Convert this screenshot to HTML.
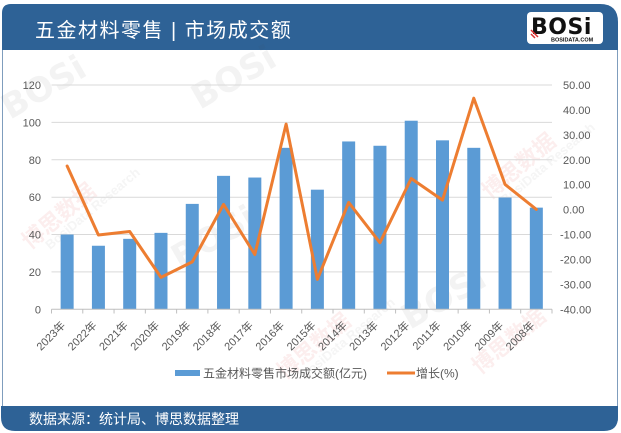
<!DOCTYPE html>
<html><head><meta charset="utf-8"><style>
html,body{margin:0;padding:0;background:#fff;}
svg{display:block;}
</style></head><body>
<svg width="621" height="433" viewBox="0 0 621 433" xmlns="http://www.w3.org/2000/svg" font-family="'Liberation Sans','Noto Sans CJK SC',sans-serif">
<!-- card body -->
<rect x="2.5" y="40" width="615" height="380" fill="#fff" stroke="#7f9dbd" stroke-width="1"/>
<!-- header -->
<path d="M2,50 L2,13 Q2,4 11,4 L600,4 Q618,4 618,22 L618,50 Z" fill="#2e6296"/>
<text x="35" y="37" font-size="20" letter-spacing="1.5" fill="#fff" font-family="'Liberation Sans','Noto Sans CJK SC',sans-serif">五金材料零售 | 市场成交额</text>
<!-- logo -->
<rect x="527" y="12" width="76" height="32" rx="4" fill="#fff"/>
<text x="531" y="34" font-size="22" font-weight="bold" fill="#111" letter-spacing="0.5" font-family="'DejaVu Sans','Liberation Sans',sans-serif">BOSi</text>
<path d="M531,30 L538,37 M531,34 L535,38" stroke="#d33" stroke-width="1.5"/>
<text x="551" y="41.5" font-size="5.5" font-weight="bold" fill="#111">BOSIDATA.COM</text>
<!-- footer -->
<path d="M1,406 L618,406 L618,417 Q618,431 604,431 L15,431 Q1,431 1,417 Z" fill="#2e6296"/>
<text x="29" y="424" font-size="14" fill="#fff" font-family="'Liberation Sans','Noto Sans CJK SC',sans-serif">数据来源：统计局、博思数据整理</text>

<!-- watermarks -->
<g opacity="0.07" font-weight="bold">
<text transform="translate(30,250) rotate(-40)" font-size="22" fill="#c00">博思数据</text>
<text transform="translate(50,250) rotate(-40)" font-size="13" fill="#666">BosiData Research</text>
<text transform="translate(285,380) rotate(-40)" font-size="22" fill="#c00">博思数据</text>
<text transform="translate(305,380) rotate(-40)" font-size="13" fill="#666">BosiData Research</text>
<text transform="translate(490,200) rotate(-40)" font-size="22" fill="#c00">博思数据</text>
<text transform="translate(505,205) rotate(-40)" font-size="13" fill="#666">BosiData Research</text>
<text transform="translate(480,375) rotate(-40)" font-size="22" fill="#c00">博思数据</text>
<text transform="translate(200,110) rotate(-30)" font-size="34" fill="#555" font-family="'DejaVu Sans',sans-serif">BOSi</text>
<text transform="translate(180,270) rotate(-30)" font-size="34" fill="#555" font-family="'DejaVu Sans',sans-serif">BOSi</text>
<text transform="translate(410,330) rotate(-30)" font-size="34" fill="#555" font-family="'DejaVu Sans',sans-serif">BOSi</text>
<text transform="translate(10,120) rotate(-30)" font-size="34" fill="#555" font-family="'DejaVu Sans',sans-serif">BOSi</text>
</g>

<!-- gridlines -->
<g stroke="#d9d9d9" stroke-width="1">
<line x1="51.5" x2="552" y1="85" y2="85"/>
<line x1="51.5" x2="552" y1="122.4" y2="122.4"/>
<line x1="51.5" x2="552" y1="159.8" y2="159.8"/>
<line x1="51.5" x2="552" y1="197.2" y2="197.2"/>
<line x1="51.5" x2="552" y1="234.5" y2="234.5"/>
<line x1="51.5" x2="552" y1="271.9" y2="271.9"/>
</g>
<!-- left labels -->
<g font-size="11" fill="#595959" text-anchor="end">
<text x="41" y="89">120</text>
<text x="41" y="126.4">100</text>
<text x="41" y="163.8">80</text>
<text x="41" y="201.2">60</text>
<text x="41" y="238.5">40</text>
<text x="41" y="275.9">20</text>
<text x="41" y="313.3">0</text>
</g>
<!-- right labels -->
<g font-size="11" fill="#595959">
<text x="563" y="89">50.00</text>
<text x="563" y="113.9">40.00</text>
<text x="563" y="138.8">30.00</text>
<text x="563" y="163.8">20.00</text>
<text x="563" y="188.7">10.00</text>
<text x="563" y="213.6">0.00</text>
<text x="560" y="238.5">-10.00</text>
<text x="560" y="263.4">-20.00</text>
<text x="560" y="288.4">-30.00</text>
<text x="560" y="313.3">-40.00</text>
</g>
<!-- bars -->
<g fill="#5b9bd5">
<rect x="60.64" y="234.54" width="13" height="74.76"/>
<rect x="91.92" y="245.75" width="13" height="63.55"/>
<rect x="123.20" y="238.84" width="13" height="70.46"/>
<rect x="154.48" y="232.86" width="13" height="76.44"/>
<rect x="185.76" y="203.89" width="13" height="105.41"/>
<rect x="217.04" y="175.85" width="13" height="133.45"/>
<rect x="248.32" y="177.54" width="13" height="131.76"/>
<rect x="279.60" y="147.82" width="13" height="161.48"/>
<rect x="310.88" y="189.68" width="13" height="119.62"/>
<rect x="342.16" y="141.46" width="13" height="167.84"/>
<rect x="373.44" y="145.76" width="13" height="163.54"/>
<rect x="404.72" y="120.72" width="13" height="188.58"/>
<rect x="436.00" y="140.34" width="13" height="168.96"/>
<rect x="467.28" y="147.82" width="13" height="161.48"/>
<rect x="498.56" y="197.53" width="13" height="111.77"/>
<rect x="529.84" y="207.63" width="13" height="101.67"/>
</g>
<!-- x axis -->
<line x1="51.5" x2="552" y1="309.3" y2="309.3" stroke="#bfbfbf" stroke-width="1"/>
<g stroke="#bfbfbf" stroke-width="1">
<line x1="51.5" x2="51.5" y1="309.3" y2="313.5"/>
<line x1="82.78" x2="82.78" y1="309.3" y2="313.5"/>
<line x1="114.06" x2="114.06" y1="309.3" y2="313.5"/>
<line x1="145.34" x2="145.34" y1="309.3" y2="313.5"/>
<line x1="176.62" x2="176.62" y1="309.3" y2="313.5"/>
<line x1="207.9" x2="207.9" y1="309.3" y2="313.5"/>
<line x1="239.18" x2="239.18" y1="309.3" y2="313.5"/>
<line x1="270.46" x2="270.46" y1="309.3" y2="313.5"/>
<line x1="301.74" x2="301.74" y1="309.3" y2="313.5"/>
<line x1="333.02" x2="333.02" y1="309.3" y2="313.5"/>
<line x1="364.3" x2="364.3" y1="309.3" y2="313.5"/>
<line x1="395.58" x2="395.58" y1="309.3" y2="313.5"/>
<line x1="426.86" x2="426.86" y1="309.3" y2="313.5"/>
<line x1="458.14" x2="458.14" y1="309.3" y2="313.5"/>
<line x1="489.42" x2="489.42" y1="309.3" y2="313.5"/>
<line x1="520.7" x2="520.7" y1="309.3" y2="313.5"/>
<line x1="552" x2="552" y1="309.3" y2="313.5"/>
</g>
<!-- line series -->
<polyline fill="none" stroke="#ed7d31" stroke-width="3" stroke-linejoin="round" stroke-linecap="round"
points="67.14,166.0 98.42,235.0 129.70,231.5 160.98,277.4 192.26,261.9 223.54,204.4 254.82,254.5 286.10,124.1 317.38,279.4 348.66,202.4 379.94,242.7 411.22,178.5 442.50,200.1 473.78,98.2 505.06,184.4 536.34,209.4"/>
<!-- x labels -->
<g font-size="11" fill="#595959" text-anchor="end" font-family="'Liberation Sans','Noto Sans CJK SC',sans-serif">
<text transform="translate(66.1,326) rotate(-45)">2023年</text>
<text transform="translate(97.4,326) rotate(-45)">2022年</text>
<text transform="translate(128.7,326) rotate(-45)">2021年</text>
<text transform="translate(160,326) rotate(-45)">2020年</text>
<text transform="translate(191.3,326) rotate(-45)">2019年</text>
<text transform="translate(222.5,326) rotate(-45)">2018年</text>
<text transform="translate(253.8,326) rotate(-45)">2017年</text>
<text transform="translate(285.1,326) rotate(-45)">2016年</text>
<text transform="translate(316.4,326) rotate(-45)">2015年</text>
<text transform="translate(347.7,326) rotate(-45)">2014年</text>
<text transform="translate(378.9,326) rotate(-45)">2013年</text>
<text transform="translate(410.2,326) rotate(-45)">2012年</text>
<text transform="translate(441.5,326) rotate(-45)">2011年</text>
<text transform="translate(472.8,326) rotate(-45)">2010年</text>
<text transform="translate(504.1,326) rotate(-45)">2009年</text>
<text transform="translate(535.3,326) rotate(-45)">2008年</text>
</g>
<!-- legend -->
<rect x="175" y="370" width="25" height="6" fill="#5b9bd5"/>
<text x="203" y="377.5" font-size="12" fill="#595959" font-family="'Liberation Sans','Noto Sans CJK SC',sans-serif">五金材料零售市场成交额(亿元)</text>
<line x1="387" x2="415" y1="373" y2="373" stroke="#ed7d31" stroke-width="3"/>
<text x="416" y="377.5" font-size="12" fill="#595959" font-family="'Liberation Sans','Noto Sans CJK SC',sans-serif">增长(%)</text>
</svg>
</body></html>
